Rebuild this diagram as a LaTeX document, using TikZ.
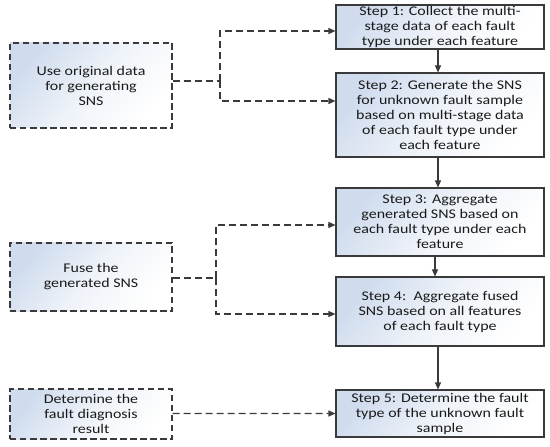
\documentclass[tikz,border=0pt]{standalone}
\usepackage{fontspec}
\setmainfont{Carlito}[FakeStretch=1.2]
\usetikzlibrary{arrows.meta}
\definecolor{gblue}{HTML}{D0DCEE}
\definecolor{edgec}{HTML}{3A3A3A}
\definecolor{txtc}{HTML}{1A1A1A}
\tikzset{
  base/.style={align=center, inner sep=0pt, text=txtc,
    font=\fontsize{13.3bp}{15bp}\selectfont,
    top color=gblue, bottom color=white, middle color=gblue!35!white, shading angle=50},
  stepbox/.style={base, draw=edgec, line width=1.1bp, minimum width=208bp},
  sidebox/.style={base, draw=edgec, line width=1.1bp, dash pattern=on 6.5bp off 3.5bp, minimum width=162bp},
  dashline/.style={draw=edgec, line width=1.1bp, dash pattern=on 7bp off 4bp},
  tip/.style={-{Triangle[length=7bp,width=6bp]}},
  solidarrow/.style={draw=edgec, line width=1.1bp, tip}
}
\begin{document}
\begin{tikzpicture}[x=1bp, y=-1bp]
\useasboundingbox (0,0) rectangle (550,447);
\node[stepbox, minimum height=44bp] (s1) at (440,27) {Step 1: Collect the multi-\\stage data of each fault\\type under each feature};
\node[stepbox, minimum height=84bp] (s2) at (440,115) {Step 2: Generate the SNS\\for unknown fault sample\\based on multi-stage data\\of each fault type under\\each feature};
\node[stepbox, minimum height=68bp] (s3) at (440,222) {Step 3: Aggregate\\generated SNS based on\\each fault type under each\\feature};
\node[stepbox, minimum height=69bp] (s4) at (440,311.5) {Step 4:\ \ Aggregate fused\\SNS based on all features\\of each fault type};
\node[stepbox, minimum height=47bp] (s5) at (440,413.5) {Step 5: Determine the fault\\type of the unknown fault\\sample};
\node[sidebox, minimum height=85bp] (a) at (91,85.5) {Use original data\\for generating\\SNS};
\node[sidebox, minimum height=68bp] (b) at (91,277) {Fuse the\\generated SNS};
\node[sidebox, minimum height=50bp] (c) at (91,414) {Determine the\\fault diagnosis\\result};
\coordinate (ja) at (220,81);
\coordinate (jb) at (216,278);
% side connectors
\draw[dashline] (a.east |- ja) -- (ja);
\draw[dashline, tip] (ja) |- ([yshift=-4bp]s1.west);
\draw[dashline, tip] (ja) |- ([yshift=14bp]s2.west);
\draw[dashline] (b.east |- jb) -- (jb);
\draw[dashline, tip] (jb) |- ([yshift=-3bp]s3.west);
\draw[dashline, tip] (jb) |- ([yshift=-2.5bp]s4.west);
\draw[dashline, tip] ([yshift=0.5bp]c.east) -- (s5.west);
% step connectors
\draw[solidarrow] ([xshift=-2bp]s1.south) -- ([xshift=-2bp]s2.north);
\draw[solidarrow] ([xshift=-2bp]s2.south) -- ([xshift=-2bp]s3.north);
\draw[solidarrow] ([xshift=-5bp]s3.south) -- ([xshift=-5bp]s4.north);
\draw[solidarrow] ([xshift=-2bp]s4.south) -- ([xshift=-2bp]s5.north);
\end{tikzpicture}
\end{document}
